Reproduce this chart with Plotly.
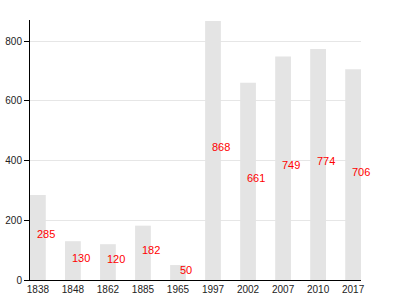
import plotly.graph_objects as go

years = ["1838", "1848", "1862", "1885", "1965", "1997", "2002", "2007", "2010", "2017"]
values = [285, 130, 120, 182, 50, 868, 661, 749, 774, 706]
y_ticks = [0, 200, 400, 600, 800]

idx = list(range(len(years)))
bar_w = 0.45

fig = go.Figure()
fig.add_trace(go.Bar(x=idx, y=values, width=bar_w, marker=dict(color="#e4e4e4", line=dict(width=0)),
                     hoverinfo="skip"))
for i, v in zip(idx, values):
    fig.add_annotation(x=i + bar_w / 2, y=v / 2, text=str(v), showarrow=False,
                       xanchor="center", yanchor="middle", yshift=3,
                       font=dict(color="#ff0000", size=11, family="Liberation Sans, Arial"))

fig.update_layout(
    width=400, height=300,
    margin=dict(l=30, r=39, t=20, b=20),
    paper_bgcolor="white", plot_bgcolor="white",
    showlegend=False,
    font=dict(family="Liberation Sans, Arial", size=10, color="#222"),
    xaxis=dict(range=[-bar_w / 2, len(years) - 1 + bar_w / 2], tickvals=idx, ticktext=years,
               showgrid=False, showline=True, linecolor="black", linewidth=1, automargin=False,
               ticks="", zeroline=False, tickfont=dict(size=10)),
    yaxis=dict(range=[0, 871], tickvals=y_ticks, showgrid=True, gridcolor="#e6e6e6",
               showline=True, linecolor="black", linewidth=1, ticks="outside", ticklen=5,
               automargin=False,
               tickcolor="black", zeroline=False, tickfont=dict(size=10)),
)
fig.write_html("out.html")
